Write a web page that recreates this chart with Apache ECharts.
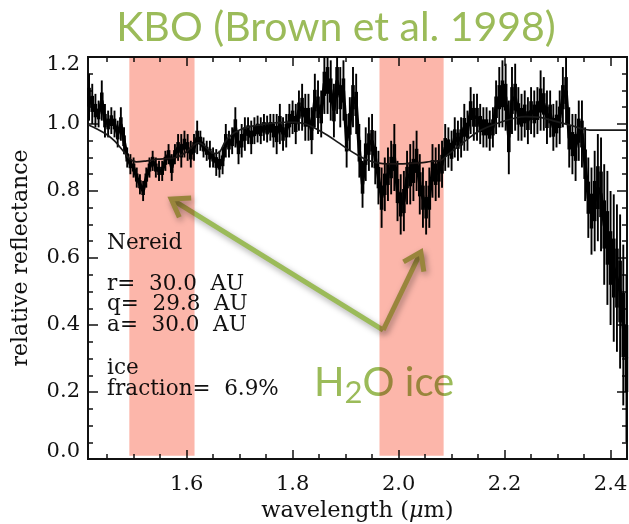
<!DOCTYPE html>
<html>
<head>
<meta charset="utf-8">
<script src="https://cdn.jsdelivr.net/npm/echarts@6/dist/echarts.min.js"></script>
<style>
  html, body { margin: 0; padding: 0; background: #fff; }
  #main { width: 629px; height: 524px; }
</style>
</head>
<body>
<div id="main"></div>
<script>
// Nereid near-infrared spectrum, relative reflectance vs wavelength (µm)
const wavelength = [
  1.416,1.422,1.428,1.434,1.440,1.446,1.452,1.458,1.464,1.470,
  1.476,1.482,1.488,1.494,1.500,1.506,1.512,1.518,1.524,1.530,
  1.536,1.542,1.548,1.554,1.560,1.566,1.572,1.578,1.584,1.590,
  1.596,1.602,1.608,1.614,1.620,1.626,1.632,1.638,1.644,1.650,
  1.656,1.662,1.668,1.674,1.680,1.686,1.692,1.698,1.704,1.710,
  1.716,1.722,1.728,1.734,1.740,1.746,1.752,1.758,1.764,1.770,
  1.776,1.782,1.788,1.794,1.800,1.806,1.812,1.818,1.824,1.830,
  1.836,1.842,1.848,1.854,1.860,1.866,1.872,1.878,1.884,1.890,
  1.896,1.902,1.908,1.914,1.920,1.926,1.932,1.938,1.944,1.950,
  1.956,1.962,1.968,1.974,1.980,1.986,1.992,1.998,2.004,2.010,
  2.016,2.022,2.028,2.034,2.040,2.046,2.052,2.058,2.064,2.070,
  2.076,2.082,2.088,2.094,2.100,2.106,2.112,2.118,2.124,2.130,
  2.136,2.142,2.148,2.154,2.160,2.166,2.172,2.178,2.184,2.190,
  2.196,2.202,2.208,2.214,2.220,2.226,2.232,2.238,2.244,2.250,
  2.256,2.262,2.268,2.274,2.280,2.286,2.292,2.298,2.304,2.310,
  2.316,2.322,2.328,2.334,2.340,2.346,2.352,2.358,2.364,2.370,
  2.376,2.382,2.388,2.394,2.400,2.406,2.412,2.418,2.424,2.430
];
const reflectance = [
  1.08,1.06,1.04,1.03,1.07,1.01,1.00,1.01,1.00,0.97,
  1.00,0.95,0.90,0.88,0.87,0.84,0.82,0.80,0.84,0.87,
  0.89,0.87,0.86,0.86,0.89,0.91,0.87,0.91,0.93,0.92,
  0.94,0.93,0.91,0.93,0.96,0.95,0.93,0.92,0.91,0.90,
  0.885,0.88,0.89,0.95,0.94,0.95,0.99,0.93,0.95,0.97,
  0.98,0.96,0.98,0.985,0.98,0.99,0.985,0.99,0.98,0.97,
  1.00,0.97,0.98,1.01,1.02,1.00,1.04,1.05,1.02,1.02,
  0.98,1.07,1.05,1.03,1.12,1.13,1.10,1.04,1.13,1.08,
  1.10,0.95,1.00,1.08,1.06,0.92,0.82,0.91,0.94,0.95,
  0.90,0.84,0.78,0.82,0.85,0.87,0.90,0.80,0.76,0.77,
  0.84,0.85,0.86,0.89,0.82,0.78,0.75,0.78,0.86,0.85,
  0.86,0.88,0.93,0.93,0.92,0.96,0.95,0.96,0.99,0.98,
  1.04,1.02,1.02,1.00,0.99,0.99,0.98,0.99,1.05,1.08,
  1.09,1.08,0.96,1.07,1.08,1.03,1.02,1.03,1.01,1.04,
  1.03,1.04,1.07,1.06,1.02,1.03,0.99,1.00,1.02,1.08,
  1.10,0.96,0.94,0.93,0.98,0.97,0.88,0.78,0.74,0.77,
  0.81,0.79,0.70,0.66,0.60,0.57,0.54,0.50,0.40,0.30
];
const uncertainty = [
  0.07,0.06,0.05,0.04,0.06,0.05,0.04,0.04,0.04,0.04,
  0.05,0.04,0.03,0.03,0.03,0.03,0.03,0.03,0.03,0.03,
  0.03,0.03,0.03,0.03,0.03,0.03,0.04,0.03,0.04,0.05,
  0.04,0.04,0.04,0.04,0.05,0.03,0.03,0.03,0.04,0.03,
  0.04,0.04,0.04,0.05,0.04,0.04,0.06,0.05,0.05,0.05,
  0.04,0.05,0.04,0.04,0.04,0.04,0.04,0.04,0.05,0.06,
  0.06,0.05,0.05,0.05,0.05,0.06,0.06,0.07,0.07,0.07,
  0.07,0.08,0.08,0.07,0.09,0.10,0.09,0.08,0.10,0.09,
  0.09,0.08,0.08,0.09,0.09,0.08,0.07,0.08,0.08,0.08,
  0.08,0.08,0.09,0.08,0.08,0.08,0.10,0.09,0.09,0.09,
  0.08,0.09,0.09,0.09,0.09,0.09,0.08,0.09,0.08,0.08,
  0.08,0.07,0.07,0.06,0.06,0.06,0.06,0.06,0.07,0.06,
  0.07,0.07,0.07,0.06,0.06,0.06,0.06,0.06,0.08,0.09,
  0.10,0.10,0.11,0.10,0.10,0.08,0.07,0.07,0.07,0.07,
  0.07,0.07,0.09,0.08,0.08,0.07,0.07,0.07,0.08,0.09,
  0.10,0.09,0.09,0.10,0.09,0.10,0.11,0.12,0.13,0.15,
  0.16,0.17,0.18,0.20,0.20,0.22,0.22,0.23,0.24,0.25
];

// Ice-mixture model curve
const modelWavelength = [
  1.414,1.430,1.450,1.465,1.480,1.492,1.505,1.525,1.545,1.565,
  1.580,1.598,1.612,1.622,1.632,1.645,1.655,1.663,1.672,1.685,
  1.700,1.720,1.740,1.760,1.785,1.805,1.825,1.845,1.865,1.885,
  1.904,1.923,1.942,1.960,1.980,2.000,2.020,2.040,2.060,2.080,
  2.092,2.111,2.130,2.149,2.168,2.194,2.220,2.240,2.267,2.291,
  2.323,2.348,2.361,2.431
];
const modelReflectance = [
  0.998,0.986,0.968,0.948,0.920,0.897,0.887,0.890,0.895,0.897,
  0.900,0.915,0.935,0.944,0.937,0.918,0.912,0.918,0.945,0.968,
  0.982,0.992,0.998,1.002,1.005,1.005,1.000,0.985,0.967,0.946,
  0.925,0.907,0.892,0.884,0.881,0.881,0.882,0.884,0.888,0.892,
  0.907,0.931,0.955,0.976,0.991,1.006,1.018,1.022,1.020,1.010,
  0.997,0.985,0.982,0.982
];

// H2O absorption bands (µm)
const bandStart = [1.492, 1.964];
const bandEnd = [1.615, 2.085];
const bandTop = 1.2;
const bandBottom = 0.01;

// Axis ticks
const xMajorTicks = [1.6, 1.8, 2.0, 2.2, 2.4];
const xMinorTicks = [1.45, 1.5, 1.55, 1.65, 1.7, 1.75, 1.85, 1.9, 1.95, 2.05, 2.1, 2.15, 2.25, 2.3, 2.35];
const xMin = 1.414, xMax = 2.431;
const yMin = 0, yMax = 1.2, yStep = 0.2;

// Annotation block: [text, wavelength, reflectance]
const infoLines = [
  ['Nereid', 1.450, 0.645],
  ['r=  30.0  AU', 1.450, 0.520],
  ['q=  29.8  AU', 1.450, 0.461],
  ['a=  30.0  AU', 1.450, 0.398],
  ['ice', 1.450, 0.269],
  ['fraction=  6.9%', 1.450, 0.208]
];
// Arrows from the "H2O ice" label to the two absorption features
const arrowTail = [1.971, 0.385];
const arrowTips = [[1.571, 0.776], [2.042, 0.618]];

const serif = '"DejaVu Serif", serif';
const green = '#9bbb59';

const chart = echarts.init(document.getElementById('main'), null, { renderer: 'canvas' });

const axisLineStyle = { color: '#111', width: 2 };
const tickStyle = { color: '#111', width: 1.5 };

function xAxisPart(position, values, len, withLabels) {
  return {
    type: 'value', position: position, min: xMin, max: xMax, gridIndex: 0,
    axisLine: { show: true, onZero: false, lineStyle: axisLineStyle },
    axisTick: { show: true, inside: true, length: len, customValues: values, lineStyle: tickStyle },
    axisLabel: withLabels ? {
      show: true, customValues: xMajorTicks, margin: 15,
      formatter: v => v.toFixed(1), fontFamily: serif, fontSize: 21, color: '#111'
    } : { show: false },
    splitLine: { show: false }
  };
}
function yAxisPart(position, withLabels) {
  return {
    type: 'value', position: position, min: yMin, max: yMax, interval: yStep, gridIndex: 0,
    axisLine: { show: true, onZero: false, lineStyle: axisLineStyle },
    axisTick: { show: true, inside: true, length: 10, lineStyle: tickStyle },
    minorTick: { show: true, splitNumber: 4, length: 5, lineStyle: tickStyle },
    axisLabel: withLabels ? {
      show: true, margin: 8,
      // end labels sit slightly inside the frame
      formatter: v => v === yMin ? '{lo|' + v.toFixed(1) + '}'
        : v === yMax ? '{hi|' + v.toFixed(1) + '}' : v.toFixed(1),
      fontFamily: serif, fontSize: 21, color: '#111',
      rich: {
        lo: { fontFamily: serif, fontSize: 21, color: '#111', padding: [0, 0, 14, 0] },
        hi: { fontFamily: serif, fontSize: 21, color: '#111', padding: [16, 0, 0, 0] }
      }
    } : { show: false },
    splitLine: { show: false }
  };
}

const bottomMajor = xAxisPart('bottom', xMajorTicks, 9, true);
bottomMajor.name = '{t|wavelength (}{i|μ}{t|m)}';
bottomMajor.nameLocation = 'middle';
bottomMajor.nameGap = 39;
bottomMajor.nameTextStyle = {
  rich: {
    t: { fontFamily: serif, fontSize: 22.5, color: '#111' },
    i: { fontFamily: serif, fontSize: 22.5, fontStyle: 'italic', color: '#111' }
  }
};
const leftAxis = yAxisPart('left', true);
leftAxis.name = 'relative reflectance';
leftAxis.nameLocation = 'middle';
leftAxis.nameGap = 56;
leftAxis.nameTextStyle = { fontFamily: serif, fontSize: 22, color: '#111' };

const errorData = wavelength.map((w, i) => [w, reflectance[i], uncertainty[i]]);
const spectrumData = wavelength.map((w, i) => [w, reflectance[i]]);
const modelData = modelWavelength.map((w, i) => [w, modelReflectance[i]]);
const bandData = bandStart.map((s, i) => [s, bandEnd[i]]);

chart.setOption({
  backgroundColor: '#ffffff',
  animation: false,
  title: {
    text: 'KBO (Brown et al. 1998)',
    left: 331, top: 2, textAlign: 'center',
    textStyle: { fontFamily: 'Lato', fontWeight: 'normal', fontSize: 41, color: green }
  },
  grid: { left: 88, right: 2, top: 57, bottom: 65, outerBoundsMode: 'none', containLabel: false },
  xAxis: [
    bottomMajor,
    xAxisPart('bottom', xMinorTicks, 5, false),
    xAxisPart('top', xMajorTicks, 9, false),
    xAxisPart('top', xMinorTicks, 5, false)
  ],
  yAxis: [leftAxis, yAxisPart('right', false)],
  series: [
    {
      name: 'error bars', type: 'custom', xAxisIndex: 0, yAxisIndex: 0, z: 2,
      data: errorData,
      renderItem: function (params, api) {
        const w = api.value(0), r = api.value(1), e = api.value(2);
        const hi = Math.min(yMax, r + e), lo = Math.max(yMin, r - e);
        const p1 = api.coord([w, hi]), p2 = api.coord([w, lo]);
        const c1 = api.coord([w, Math.min(yMax, r + 0.4 * e)]);
        const c2 = api.coord([w, Math.max(yMin, r - 0.4 * e)]);
        return {
          type: 'group',
          children: [
            {
              type: 'line',
              shape: { x1: p1[0], y1: p1[1], x2: p2[0], y2: p2[1] },
              style: { stroke: '#000', lineWidth: 1.9 }
            },
            {
              type: 'line',
              shape: { x1: c1[0], y1: c1[1], x2: c2[0], y2: c2[1] },
              style: { stroke: '#000', lineWidth: 3.6 }
            }
          ]
        };
      }
    },
    {
      name: 'spectrum', type: 'line', xAxisIndex: 0, yAxisIndex: 0, z: 3,
      data: spectrumData, showSymbol: false,
      lineStyle: { color: '#000', width: 3.4 }
    },
    {
      name: 'model', type: 'line', xAxisIndex: 0, yAxisIndex: 0, z: 4,
      data: modelData, showSymbol: false, smooth: 0.4,
      lineStyle: { color: '#1a1a1a', width: 1.7 }
    },
    {
      name: 'H2O bands', type: 'custom', xAxisIndex: 0, yAxisIndex: 0, z: 10,
      silent: true, blendMode: 'multiply',
      data: bandData,
      renderItem: function (params, api) {
        const a = api.coord([api.value(0), bandTop]);
        const b = api.coord([api.value(1), bandBottom]);
        return {
          type: 'rect',
          shape: { x: a[0], y: a[1], width: b[0] - a[0], height: b[1] - a[1] },
          style: { fill: '#fcb6aa' }
        };
      }
    }
  ]
});

// Annotations placed in data coordinates
const toPx = p => chart.convertToPixel({ xAxisIndex: 0, yAxisIndex: 0 }, p);
const graphics = [];
infoLines.forEach(([txt, w, r]) => {
  const p = toPx([w, r]);
  graphics.push({
    type: 'text', x: p[0], y: p[1], z: 5,
    style: { text: txt, fontFamily: serif, fontSize: 21.5, fill: '#111', align: 'left', verticalAlign: 'middle' }
  });
});

const shadow = { shadowBlur: 6, shadowColor: 'rgba(0,0,0,0.35)', shadowOffsetX: 2, shadowOffsetY: 3 };
const tail = toPx(arrowTail);
arrowTips.forEach(tipVal => {
  const tip = toPx(tipVal);
  const dx = tip[0] - tail[0], dy = tip[1] - tail[1];
  const len = Math.hypot(dx, dy);
  const ux = dx / len, uy = dy / len;
  const L = 20, ang = 0.6;
  const arm = s => [
    tip[0] - L * (ux * Math.cos(ang) - s * uy * Math.sin(ang)),
    tip[1] - L * (uy * Math.cos(ang) + s * ux * Math.sin(ang))
  ];
  graphics.push({
    type: 'line', z: 5,
    shape: { x1: tail[0], y1: tail[1], x2: tip[0] - ux * 2, y2: tip[1] - uy * 2 },
    style: Object.assign({ stroke: green, lineWidth: 5, lineCap: 'butt' }, shadow)
  });
  graphics.push({
    type: 'polyline', z: 5,
    shape: { points: [arm(1), tip, arm(-1)] },
    style: Object.assign({ stroke: green, fill: null, lineWidth: 5, lineJoin: 'miter' }, shadow)
  });
});

graphics.push({
  type: 'text', x: 314, y: 383, z: 5,
  style: {
    text: '{n|H}{s|2}{n|O ice}',
    align: 'left', verticalAlign: 'middle',
    rich: {
      n: { fontFamily: 'Lato', fontSize: 40, fill: green, lineHeight: 50 },
      s: { fontFamily: 'Lato', fontSize: 31, fill: green, lineHeight: 50, verticalAlign: 'bottom', padding: [22, 0, 0, 0] }
    }
  }
});

chart.setOption({ graphic: graphics });
</script>
</body>
</html>
